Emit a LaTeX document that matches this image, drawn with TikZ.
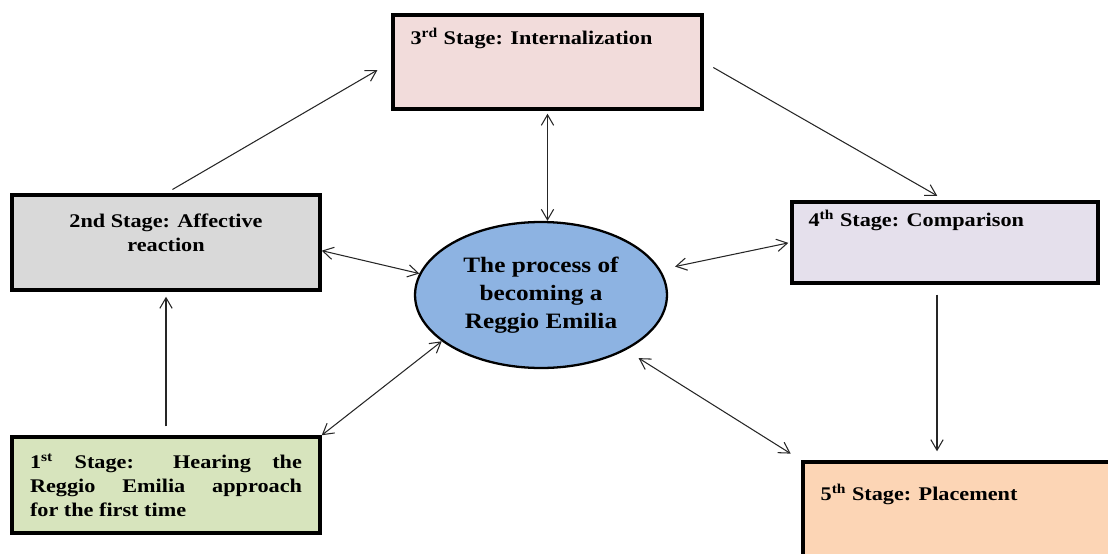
\documentclass[tikz,border=0pt]{standalone}
\usepackage{fontspec}
\setmainfont{Liberation Serif}[FakeStretch=1.15]
\usepackage{tikz}
\usetikzlibrary{arrows.meta,shapes.geometric,positioning}

\definecolor{stageone}{HTML}{D7E4BD}
\definecolor{stagetwo}{HTML}{D9D9D9}
\definecolor{stagethree}{HTML}{F2DCDB}
\definecolor{stagefour}{HTML}{E5E0EC}
\definecolor{stagefive}{HTML}{FCD5B5}
\definecolor{processblue}{HTML}{8DB3E2}

\tikzset{
	stagebox/.style={draw=black, line width=2pt, rectangle},
	stagetext/.style={font=\fontsize{11}{13.6}\selectfont\bfseries, inner sep=0pt},
	arr/.style={-{Straight Barb[length=6pt,width=7pt]}, line width=0.6pt, draw=black!85},
	darr/.style={{Straight Barb[length=6pt,width=7pt]}-{Straight Barb[length=6pt,width=7pt]}, line width=0.6pt, draw=black!85}
}

\begin{document}
\begin{tikzpicture}[x=0.02cm, y=-0.02cm]
		%%%%% START %%%%%
		\useasboundingbox (0, 0) rectangle (1108, 554);
		\clip (0, 0) rectangle (1108, 554);
		
		% the five stages
		\node[stagebox, fill=stagethree, minimum width=6.18cm, minimum height=1.88cm] (s3) at (547.5, 62) {};
		\node[stagebox, fill=stagetwo, minimum width=6.16cm, minimum height=1.9cm] (s2) at (166, 242.5) {};
		\node[stagebox, fill=stageone, minimum height=1.92cm, text width=5.44cm, inner xsep=0.36cm,
			align=justify, font=\fontsize{11}{13.6}\selectfont\bfseries] (s1) at (166, 485)
			{1\textsuperscript{st} Stage: Hearing the\linebreak Reggio Emilia approach\linebreak for the first time};
		\node[stagebox, fill=stagefour, minimum width=6.12cm, minimum height=1.62cm] (s4) at (945, 242.5) {};
		\node[stagebox, fill=stagefive, minimum width=7cm, minimum height=2.36cm] (s5) at (978, 521) {};
		
		% the process
		\node[ellipse, draw=black, line width=1.3pt, fill=processblue, minimum width=5.04cm, minimum height=2.92cm,
			align=center, font=\fontsize{12.5}{16}\selectfont\bfseries] (ell) at (541, 295)
			{The process of\\becoming a\\Reggio Emilia};
		
		% stage labels
		\node[stagetext, align=center] (t2) at ([yshift=0.2cm]s2.center) {2nd Stage: Affective\\reaction};
		\node[stagetext, anchor=base west] (t3) at ([xshift=0.38cm, yshift=-0.62cm]s3.north west) {3\textsuperscript{rd} Stage: Internalization};
		\node[stagetext, anchor=base west] (t4) at ([xshift=0.36cm, yshift=-0.52cm]s4.north west) {4\textsuperscript{th} Stage: Comparison};
		\node[stagetext, anchor=base west] (t5) at ([xshift=0.38cm, yshift=-0.8cm]s5.north west) {5\textsuperscript{th} Stage: Placement};
		
		% arrows
		\coordinate (s5top) at (s4.south |- s5.north);
		\draw[arr, shorten <=0.18cm, shorten >=0.1cm] (s1.north) -- (s2.south);
		\draw[arr, shorten <=0.15cm, shorten >=0.32cm] (s2.north) -- (s3.west);
		\draw[arr, shorten <=0.22cm, shorten >=0.18cm] (s3.east) -- (s4.north);
		\draw[arr, shorten <=0.2cm, shorten >=0.18cm] ([xshift=-0.16cm]s4.south) -- ([xshift=-0.16cm]s5top);
		
		\draw[darr, shorten <=0.06cm] (s3.south) -- (s3.south |- ell.north);
		\draw[darr] (s2.-3) -- (ell.170);
		\draw[darr, shorten <=0.3cm, shorten >=0.04cm] (ell.12) -- (s4.west);
		\draw[darr, shorten <=0.3cm, shorten >=0.25cm] (ell.-33) -- (s5.north west);
		\draw[darr] (s1.north east) -- (ell.205);
		%%%%% END %%%%%
	\end{tikzpicture}
\end{document}
